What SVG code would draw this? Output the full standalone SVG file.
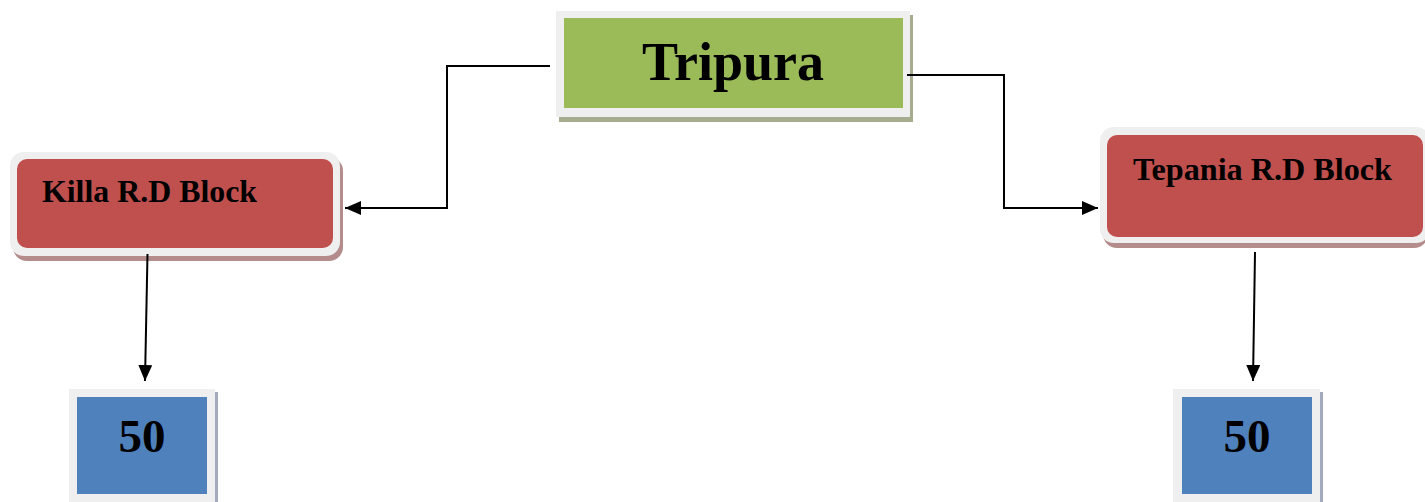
<svg xmlns="http://www.w3.org/2000/svg" width="1425" height="502" viewBox="0 0 1425 502">
<style>
.frame{fill:#efefef}
.t{font-family:"Liberation Serif","Times New Roman",serif;font-weight:bold;fill:#000}
.ln{fill:none;stroke:#000;stroke-width:2}
</style>
<defs>
<marker id="ah" viewBox="0 0 16 14" refX="16" refY="7" markerWidth="16" markerHeight="14" markerUnits="userSpaceOnUse" orient="auto">
<path d="M0,0 L16,7 L0,14 Z" fill="#000"/>
</marker>
</defs>
<rect width="1425" height="502" fill="#fff"/>
<g id="tripura">
<rect x="559" y="15" width="354" height="107" fill="#a6ad8e"/>
<rect class="frame" x="556" y="11" width="354" height="106"/>
<rect x="564" y="18" width="339" height="90" fill="#9bbb59"/>
<text class="t" x="733" y="80" font-size="54" text-anchor="middle">Tripura</text>
</g>
<g id="killa">
<rect x="13" y="157" width="330" height="104" rx="14" fill="#b48c8c"/>
<rect class="frame" x="10" y="152" width="330" height="104" rx="14"/>
<rect x="17" y="159" width="316" height="89" rx="10" fill="#c0504d"/>
<text class="t" x="42" y="202" font-size="31" textLength="215" lengthAdjust="spacingAndGlyphs">Killa R.D Block</text>
</g>
<g id="tepania">
<rect x="1103" y="132" width="325" height="116" rx="14" fill="#b48c8c"/>
<rect class="frame" x="1100" y="127" width="330" height="116" rx="14"/>
<rect x="1107" y="135" width="316" height="102" rx="10" fill="#c0504d"/>
<text class="t" x="1133" y="180" font-size="31" textLength="259" lengthAdjust="spacingAndGlyphs">Tepania R.D Block</text>
</g>
<g id="n50left">
<rect x="72" y="392" width="146" height="115" fill="#a3aabb"/>
<rect class="frame" x="69" y="389" width="146" height="115"/>
<rect x="77" y="397" width="130" height="97" fill="#4f81bd"/>
<text class="t" x="142" y="452" font-size="47" text-anchor="middle">50</text>
</g>
<g id="n50right">
<rect x="1176" y="392" width="147" height="115" fill="#a3aabb"/>
<rect class="frame" x="1173" y="389" width="147" height="115"/>
<rect x="1182" y="397" width="130" height="97" fill="#4f81bd"/>
<text class="t" x="1247" y="452" font-size="47" text-anchor="middle">50</text>
</g>
<g id="connectors">
<path class="ln" d="M550,66 H447 V208 H345" marker-end="url(#ah)"/>
<path class="ln" d="M907,75 H1004 V208 H1098" marker-end="url(#ah)"/>
<path class="ln" d="M147.5,254 L145,381" marker-end="url(#ah)"/>
<path class="ln" d="M1255,252 L1253,381" marker-end="url(#ah)"/>
</g>
</svg>
